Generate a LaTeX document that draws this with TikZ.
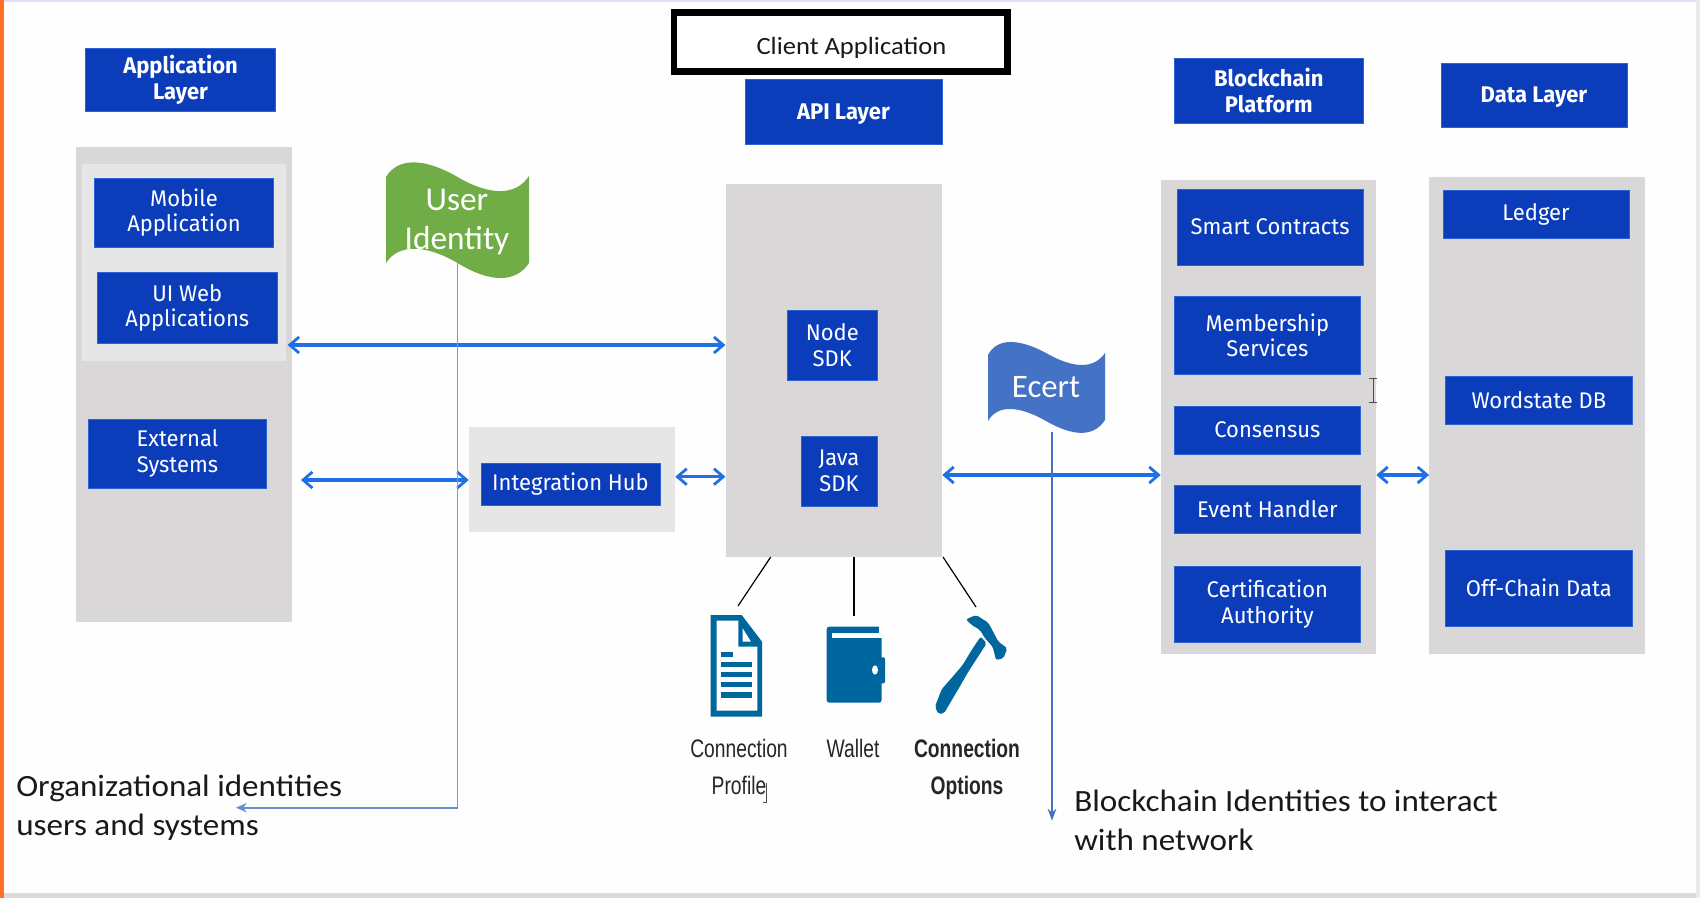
\documentclass[tikz,border=0pt]{standalone}
\usepackage{fontspec}
\setmainfont[FakeStretch=0.97]{Fira Sans}
\newfontfamily\calibri[FakeStretch=1.07]{Carlito}
\newfontfamily\calibriplain{Carlito}
\newfontfamily\arialn[FakeStretch=0.76]{Liberation Sans}
\usetikzlibrary{arrows.meta,calc}
\definecolor{boxblue}{HTML}{0B3DBB}
\definecolor{boxedge}{HTML}{2B62D6}
\definecolor{panelgrey}{HTML}{D9D7D8}
\definecolor{panellight}{HTML}{E7E6E7}
\definecolor{arrowblue}{HTML}{1F6FE5}
\definecolor{thinblue}{HTML}{4472C4}
\definecolor{paleblue}{HTML}{6F9CE6}
\definecolor{flaggreen}{HTML}{70AD47}
\definecolor{iconblue}{HTML}{00669E}
\definecolor{pagewhite}{HTML}{FEFEFE}
\tikzset{
  x=.75pt,y=-.75pt,
  bluetext/.style={text=white,align=center,inner sep=0pt,font=\fontsize{17}{19.3}\selectfont},
  bluehead/.style={text=white,align=center,inner sep=0pt,font=\fontsize{17}{19.3}\selectfont\bfseries},
  biarrow/.style={draw=arrowblue,line width=2.5pt,{Straight Barb[length=7pt,width=12pt,line width=2.1pt]}-{Straight Barb[length=7pt,width=12pt,line width=2.1pt]}},
  notetext/.style={inner sep=0pt,anchor=north west,align=left,text=black!90,font=\calibri\fontsize{23.2}{29.25}\selectfont},
  icontext/.style={inner sep=0pt,align=center,anchor=base,text=black!85,font=\arialn\fontsize{19}{27.7}\selectfont},
  flagtext/.style={inner sep=0pt,align=center,text=white,font=\calibriplain\fontsize{25}{29}\selectfont},
  tie/.style={draw=black,line width=.9pt},
}
% name, x1, y1, x2, y2, style, text
\newcommand\rectnode[7]{%
  \pgfmathsetmacro\rw{(#4-#2)*.75}\pgfmathsetmacro\rh{(#5-#3)*.75}%
  \pgfmathsetmacro\rx{(#2+#4)/2}\pgfmathsetmacro\ry{(#3+#5)/2}%
  \node[rectangle,minimum width=\rw pt,minimum height=\rh pt,#6] (#1) at (\rx,\ry) {#7};}
\newcommand\panelnode[6]{\rectnode{#1}{#2}{#3}{#4}{#5}{fill=#6,inner sep=0pt}{}}
\newcommand\bluebox[6]{\rectnode{#1}{#2}{#3}{#4}{#5}{fill=boxblue,draw=boxedge,line width=.5pt,bluetext}{#6}}
\newcommand\bluehead[6]{\rectnode{#1}{#2}{#3}{#4}{#5}{fill=boxblue,draw=boxedge,line width=.5pt,bluehead}{#6}}
\begin{document}
\begin{tikzpicture}
\useasboundingbox (0,0) rectangle (1700,898);
\fill[pagewhite] (0,0) rectangle (1700,898);
\fill[black!18!blue!12!white] (0,0) rectangle (1700,2);
\fill[black!14] (0,893) rectangle (1700,898);
\fill[black!8] (1696,0) rectangle (1700,898);
\fill[orange!70!red!85!white] (0,0) rectangle (4,898);

% panels
\panelnode{appPanel}{76.4}{147}{292}{621.7}{panelgrey}
\panelnode{innerPanel}{82.4}{164}{286}{361}{panellight}
\panelnode{apiPanel}{725.7}{184}{942}{557}{panelgrey}
\panelnode{hubPanel}{469}{427}{675}{531.7}{panellight}
\panelnode{bcPanel}{1161}{180}{1376}{654}{panelgrey}
\panelnode{dataPanel}{1429.4}{177}{1645}{654}{panelgrey}

% headers
\rectnode{clientBox}{674}{12.5}{1007.5}{71.5}{draw=black,line width=5.2pt,fill=white,inner sep=0pt,text=black!90,font=\calibri\fontsize{18.6}{22}\selectfont}{\hspace{16pt}\raisebox{-9.7pt}[0pt][0pt]{Client Application}}
\bluehead{appHead}{85.6}{48}{275.5}{111}{Application\\Layer}
\bluehead{apiHead}{745}{79}{942}{144}{\raisebox{-6pt}[0pt][0pt]{API Layer}}
\bluehead{bcHead}{1174.7}{58.7}{1363}{123}{Blockchain\\Platform}
\bluehead{dataHead}{1441}{63}{1627}{127}{\raisebox{-5.9pt}[0pt][0pt]{Data Layer}}

% boxes
\bluebox{mobile}{94.3}{178}{273.7}{247}{Mobile\\Application}
\bluebox{uiweb}{97.6}{272.7}{277}{343}{UI Web\\Applications}
\bluebox{external}{88.3}{419}{266.7}{488}{External\\Systems}
\bluebox{hub}{481}{463}{660}{505}{Integration Hub}
\bluebox{nodesdk}{787.5}{310}{877}{380}{Node\\SDK}
\bluebox{javasdk}{801}{436}{877}{506}{Java\\SDK}
\bluebox{smart}{1177.4}{189}{1363}{265}{Smart Contracts}
\bluebox{member}{1174.7}{296.7}{1360}{374}{Membership\\Services}
\bluebox{consensus}{1174.7}{406}{1360}{454}{Consensus}
\bluebox{event}{1174.7}{485}{1360}{533}{Event Handler}
\bluebox{cert}{1174.7}{566}{1360}{642.7}{Certification\\Authority}
\bluebox{ledger}{1443}{190}{1629}{238}{Ledger}
\bluebox{world}{1445.7}{376}{1632}{424}{Wordstate DB}
\bluebox{offchain}{1445.7}{550}{1632}{626}{Off-Chain Data}

% named helpers
\coordinate (ya2) at (0,480);
\coordinate (ya3) at (0,476.7);
\coordinate (ya4) at (0,475);
\coordinate (userHook) at (457.5,220);
\coordinate (orgEnd) at (236,807.7);
\coordinate (ecertStart) at (1052,432);
\coordinate (ecertEnd) at (1052,820.7);
\coordinate (docTop) at (738,606);
\coordinate (walletTop) at (854,615.7);
\coordinate (hammerTop) at (976,607);
\coordinate (apiL) at (770.7,557);
\coordinate (apiM) at (854,557);
\coordinate (apiR) at (943,557);

% connectors
\draw[biarrow,shorten <=1pt] (innerPanel.east |- nodesdk.center) -- (apiPanel.west |- nodesdk.center);
\draw[biarrow,shorten <=6.5pt] (appPanel.east |- ya2) -- (hubPanel.west |- ya2);
\draw[biarrow] (hubPanel.east |- ya3) -- (apiPanel.west |- ya3);
\draw[biarrow] (apiPanel.east |- ya4) -- (bcPanel.west |- ya4);
\draw[biarrow] (bcPanel.east |- ya4) -- (dataPanel.west |- ya4);
\draw[draw=paleblue,line width=1.4pt] (userHook) -- (userHook |- orgEnd);
\draw[draw=thinblue!80!white,line width=1.5pt,-{Stealth[length=8pt,width=7pt]}] (userHook |- orgEnd) -- (orgEnd);
\draw[draw=thinblue,line width=.9pt,-{Stealth[length=9pt,width=6.5pt]}] (ecertStart) -- (ecertEnd);
\draw[tie] (apiL) -- (docTop);
\draw[tie] (apiM) -- (walletTop);
\draw[tie] (apiR) -- (hammerTop);

% flags
\fill[flaggreen] (386,177) .. controls (398,157) and (425,158) .. (457.5,177)
  .. controls (490,196) and (516,196) .. (529,176) -- (529,263)
  .. controls (516,283) and (490,283) .. (457.5,263)
  .. controls (425,244) and (398,244) .. (386,263) -- cycle;
\node[flagtext] (userFlag) at (457,222) {User\\Identity};
\fill[thinblue] (988,355) .. controls (997,338) and (1018,338) .. (1046,353)
  .. controls (1074,369) and (1094,369) .. (1105,353) -- (1105,420)
  .. controls (1094,437) and (1074,437) .. (1046,421)
  .. controls (1018,405) and (997,405) .. (988,421) -- cycle;
\node[flagtext,font=\calibriplain\fontsize{24.6}{29}\selectfont] (ecertFlag) at (1046,387) {Ecert};

% icons
\begin{scope}[shift={(670,600)},x=.25pt,y=-.25pt]
  % document
  \fill[iconblue] (122,45) -- (215,45) -- (276,125) -- (276,350) -- (122,350) -- cycle;
  \fill[pagewhite] (140,62) -- (205,62) -- (205,140) -- (262,140) -- (262,332) -- (140,332) -- cycle;
  \fill[pagewhite] (218,85) -- (243,125) -- (218,125) -- cycle;
  \fill[iconblue] (152,155) rectangle (188,172);
  \foreach \yy in {185,215,245,277} \fill[iconblue] (152,\yy) rectangle (245,\yy+16);
  % wallet
  \fill[iconblue,rounded corners=2pt] (470,80) rectangle (635,308);
  \fill[iconblue,rounded corners=1pt] (625,172) rectangle (645,250);
  \fill[pagewhite] (485,100) rectangle (640,115);
  \fill[pagewhite] (627,78) rectangle (640,115);
  \fill[pagewhite] (615,210) ellipse (9 and 14);
  % hammer
  \fill[iconblue,rounded corners=1.5pt] (795,320) -- (805,342) -- (822,340) -- (868,262) -- (895,215) -- (950,130) -- (932,110) -- (905,150) -- (878,195) -- (855,222) -- (815,268) -- cycle;
  \fill[iconblue,rounded corners=1.5pt] (888,58) -- (918,45) -- (955,68) -- (985,125) -- (1012,145) -- (1000,175) -- (978,180) -- (968,140) -- (945,115) -- (930,90) -- (905,75) -- cycle;
\end{scope}

% icon labels
\node[icontext] (connProfile) at (739,794) {Connection\\Profile};
\node[icontext] (walletLabel) at (853,757) {Wallet};
\node[icontext,font=\arialn\bfseries\fontsize{19}{27.7}\selectfont] (connOptions) at (967,794) {Connection\\Options};

% notes
\node[notetext] (orgNote) at (16,775) {Organizational identities\\users and systems};
\node[notetext] (bcNote) at (1074,790) {Blockchain Identities to interact\\with network};

% cursors
\draw[black!70,line width=.5pt] (1373,378) -- (1373,402) (1369,378) -- (1377,378) (1369,402) -- (1377,402);
\draw[black!70,line width=.5pt] (766.5,783) -- (766.5,802) (763,802) -- (766.5,802);
\end{tikzpicture}
\end{document}
